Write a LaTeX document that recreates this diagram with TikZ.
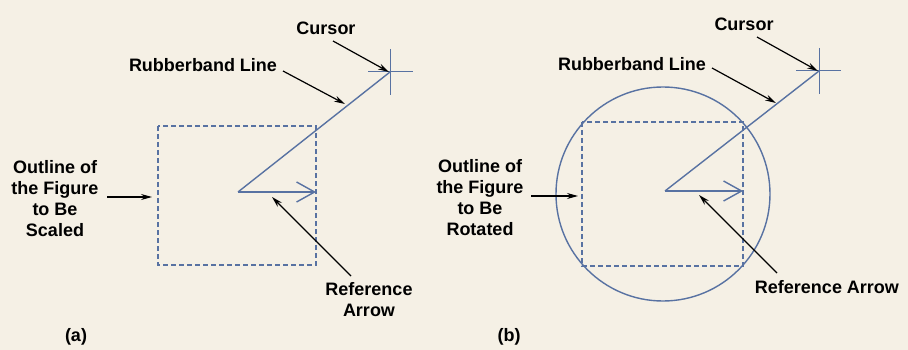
\documentclass[tikz,border=0pt]{standalone}
\usepackage{fontspec}
\setmainfont{Liberation Sans}
\usetikzlibrary{arrows.meta}

\definecolor{paper}{RGB}{245,240,229}
\definecolor{lineblue}{RGB}{88,114,162}

\begin{document}
\begin{tikzpicture}[
    x=1pt, y=-1pt,
    lbl/.style={font=\fontsize{18}{21}\selectfont\bfseries, align=center, inner sep=0pt},
    pointer/.style={-{Stealth[length=11pt, width=6pt]}, line width=1.2pt, black},
    band/.style={line width=1.4pt, lineblue},
    crosshair/.style={line width=1pt, lineblue},
    outline/.style={line width=1.3pt, lineblue, dash pattern=on 5pt off 3pt},
    refarrow/.style={band, -{Straight Barb[length=18pt, width=20pt, line width=1.4pt]}}
]

% background
\fill[paper] (0,0) rectangle (908,350);

%% Panel (a): scaling
\draw[outline] (158,126) rectangle (316,265);
\coordinate (crossA) at (390,72);
\coordinate (apexA) at (238,192);
\coordinate (tipA) at (316,192);
\draw[crosshair] (368,72) -- (413,72) (390,49) -- (390,95);
\draw[band] (crossA) -- (apexA);
\draw[refarrow] (apexA) -- (tipA);

\node[lbl] (cursorA) at (326,28) {Cursor};
\node[lbl] (bandA) at (203,65) {Rubberband Line};
\node[lbl] (outlineA) at (55,199) {Outline of\\the Figure\\to Be\\Scaled};
\node[lbl] (refA) at (369,300) {Reference\\Arrow};
\node[lbl] (capA) at (76,337) {(a)};

\coordinate (cursorAend) at (333,41);
\coordinate (bandAend) at (283,71);
\coordinate (bandAhit) at (345,104);
\coordinate (outlineAend) at (107,197);
\coordinate (outlineAhit) at (152,197);
\coordinate (refAend) at (351,276);
\coordinate (refAhit) at (272,197);

\draw[pointer] (cursorAend) -- ([shift={(-1,0)}]crossA);
\draw[pointer] (bandAend) -- (bandAhit);
\draw[pointer] (outlineAend) -- (outlineAhit);
\draw[pointer] (refAend) -- (refAhit);

%% Panel (b): rotation
\draw[band] (663,194) circle (107);
\draw[outline] (582,122) rectangle (743,266);
\coordinate (crossB) at (819,71);
\coordinate (apexB) at (665,191);
\coordinate (tipB) at (743,191);
\draw[crosshair] (796,71) -- (841,71) (819,48) -- (819,94);
\draw[band] (crossB) -- (apexB);
\draw[refarrow] (apexB) -- (tipB);

\node[lbl] (cursorB) at (744,24) {Cursor};
\node[lbl] (bandB) at (632,64) {Rubberband Line};
\node[lbl] (outlineB) at (480,198) {Outline of\\the Figure\\to Be\\Rotated};
\node[lbl] (refB) at (827,287) {Reference Arrow};
\node[lbl] (capB) at (509,337) {(b)};

\coordinate (cursorBend) at (757,37);
\coordinate (bandBend) at (712,68);
\coordinate (bandBhit) at (776,103);
\coordinate (outlineBend) at (531,196);
\coordinate (outlineBhit) at (578,196);
\coordinate (refBend) at (777,273);
\coordinate (refBhit) at (699,195);

\draw[pointer] (cursorBend) -- ([shift={(-1,0)}]crossB);
\draw[pointer] (bandBend) -- (bandBhit);
\draw[pointer] (outlineBend) -- (outlineBhit);
\draw[pointer] (refBend) -- (refBhit);

\end{tikzpicture}
\end{document}
